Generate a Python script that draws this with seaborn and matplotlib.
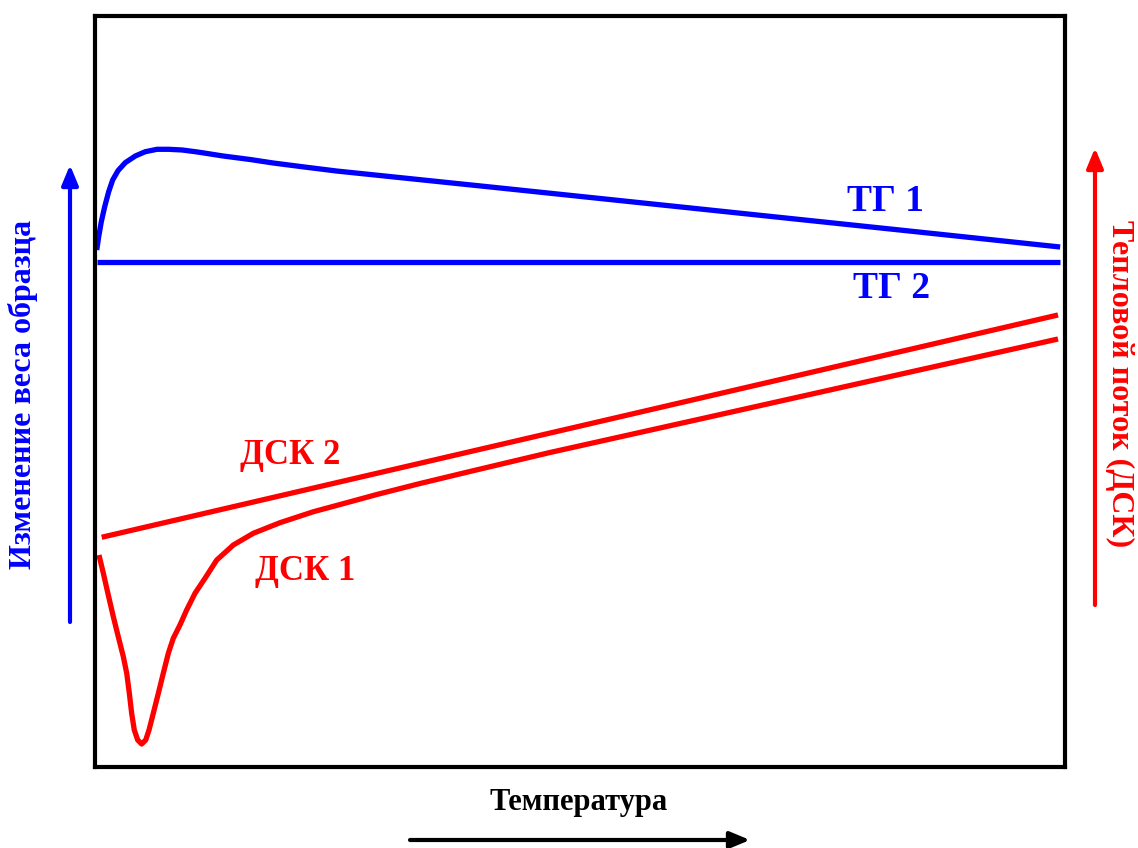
import numpy as np
import pandas as pd
import matplotlib
matplotlib.use("Agg")
import matplotlib.pyplot as plt
import seaborn as sns

# Thermogram curves (arbitrary units, temperature axis 0..100)
tg1_t = [0.18, 0.38, 0.65, 1.0, 1.41, 1.82, 2.37, 3.12, 4.16, 5.18, 6.39, 7.6, 8.97,
         10.34, 11.03, 13.2, 16.0, 18.35, 21.6, 24.9, 41.75, 62.4, 83.0, 99.5]
tg1_v = [68.84, 70.61, 72.61, 74.61, 76.6, 78.16, 79.4, 80.47, 81.36, 81.93, 82.25, 82.25, 82.16,
         81.93, 81.8, 81.36, 80.89, 80.43, 79.89, 79.36, 77.1, 74.3, 71.5, 69.24]

tg2_t = [0.2, 99.5]
tg2_v = [67.3, 67.3]

dsc1_t = [0.41, 0.86, 1.37, 1.89, 2.40, 2.92, 3.27, 3.54, 3.78, 4.05, 4.40, 4.81, 5.23,
          5.57, 6.01, 6.53, 7.04, 7.56, 8.07, 8.76, 9.45, 10.31, 11.34, 12.55, 14.26,
          16.32, 19.07, 22.51, 25.95, 29.04, 33.51, 38.66, 46.91, 62.37, 83.0, 99.28]
dsc1_v = [28.23, 25.79, 22.90, 20.01, 17.35, 14.69, 12.48, 9.81, 7.15, 4.93, 3.60, 3.06, 3.60,
          4.93, 7.15, 9.81, 12.48, 15.14, 17.14, 18.91, 20.91, 23.13, 25.13, 27.56, 29.56,
          31.12, 32.53, 33.99, 35.19, 36.28, 37.75, 39.35, 41.88, 46.33, 52.29, 56.99]

dsc2_t = [0.69, 99.28]
dsc2_v = [30.59, 60.19]

curve_labels = ["ТГ 1", "ТГ 2", "ДСК 2", "ДСК 1"]
x_label = "Температура"
left_label = "Изменение веса образца"
right_label = "Тепловой поток (ДСК)"

sns.set_style("white")
plt.rcParams["font.family"] = ["Liberation Serif", "DejaVu Serif"]

W, H = 1138, 848
fig = plt.figure(figsize=(W / 100, H / 100), dpi=100)
ax = fig.add_axes([95 / W, 1 - 767 / H, 970 / W, 751 / H])

BLUE = "#0000ff"
RED = "#ff0000"
LW = 3.8

def draw(t, v, color):
    df = pd.DataFrame({"t": t, "v": v})
    sns.lineplot(data=df, x="t", y="v", ax=ax, color=color, linewidth=LW,
                 sort=False, estimator=None, solid_capstyle="butt",
                 solid_joinstyle="round")

draw(tg1_t, tg1_v, BLUE)
draw(tg2_t, tg2_v, BLUE)
draw(dsc2_t, dsc2_v, RED)
draw(dsc1_t, dsc1_v, RED)

ax.set_xlim(0, 100)
ax.set_ylim(0, 100)
ax.set_xticks([])
ax.set_yticks([])
ax.set_xlabel("")
ax.set_ylabel("")
for s in ax.spines.values():
    s.set_visible(True)
    s.set_color("black")
    s.set_linewidth(3.0)

bold = dict(fontweight="bold")
ax.text(81.5, 74.1, curve_labels[0], color=BLUE, fontsize=27, ha="center", va="baseline", **bold)
ax.text(82.1, 62.4, curve_labels[1], color=BLUE, fontsize=27, ha="center", va="baseline", **bold)
ax.text(20.1, 40.4, curve_labels[2], color=RED, fontsize=25, ha="center", va="baseline", **bold)
ax.text(21.7, 24.9, curve_labels[3], color=RED, fontsize=25, ha="center", va="baseline", **bold)

def fx(px):
    return px / W

def fy(py):
    return 1 - py / H

# Axis titles outside the frame
fig.text(fx(579), fy(810), x_label, fontsize=22, ha="center", va="baseline", color="black", **bold)
fig.text(fx(23), fy(394), left_label, fontsize=23, rotation=90, ha="center", va="center", color=BLUE, **bold)
fig.text(fx(1120), fy(384), right_label, fontsize=23, rotation=-90, ha="center", va="center", color=RED, **bold)

# Direction arrows
def arrow(x0, y0, x1, y1, color):
    fig.add_artist(matplotlib.patches.FancyArrowPatch(
        (fx(x0), fy(y0)), (fx(x1), fy(y1)), transform=fig.transFigure,
        arrowstyle="-|>,head_length=12,head_width=5", mutation_scale=1,
        color=color, linewidth=3.0, shrinkA=0, shrinkB=0))

arrow(70, 622, 70, 165, BLUE)
arrow(1095, 605, 1095, 148, RED)
arrow(410, 840, 750, 840, "black")

fig.savefig("out.png", dpi=100, facecolor="white")
